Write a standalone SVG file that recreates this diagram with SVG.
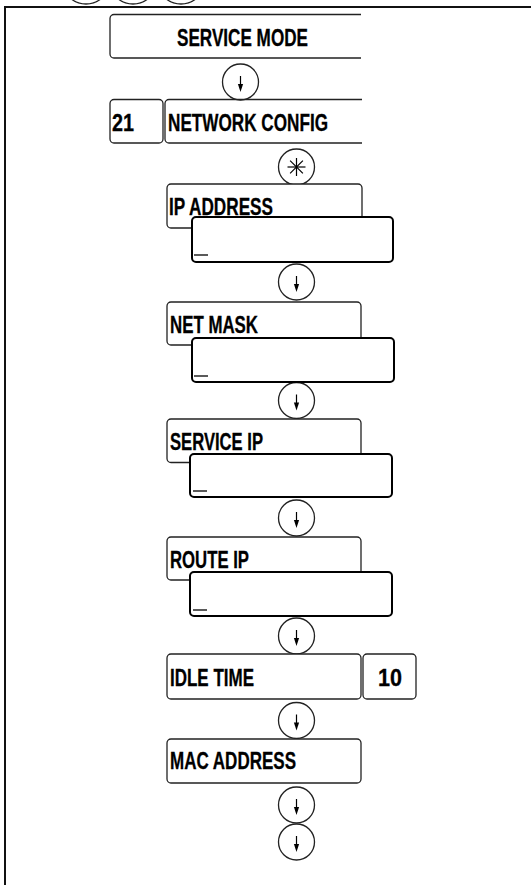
<svg xmlns="http://www.w3.org/2000/svg" width="531" height="885" viewBox="0 0 531 885">
<style>
.lbl{fill:#fff;stroke:#222;stroke-width:1.3}
.inp{fill:#fff;stroke:#000;stroke-width:2}
.t{font-family:"Liberation Sans",Arial,sans-serif;font-weight:bold;font-size:23px;fill:#000;stroke:#000;stroke-width:0.3}
.key{fill:#fff;stroke:#222;stroke-width:1.3}
.cur{stroke:#000;stroke-width:1.3}
.open{fill:none;stroke:#222;stroke-width:1.3}
</style>
<defs>
<g id="down">
<circle class="key" cx="0" cy="0" r="18"/>
<line x1="0" y1="-6" x2="0" y2="3" stroke="#000" stroke-width="1.2"/>
<polygon points="-2.6,2 2.6,2 0,10" fill="#000"/>
</g>
</defs>
<g id="frame">
<path d="M5,885 V7 H531" fill="none" stroke="#111" stroke-width="2"/>
<circle class="key" cx="86" cy="-20" r="24"/>
<circle class="key" cx="133" cy="-20" r="24"/>
<circle class="key" cx="181" cy="-20" r="24"/>
</g>
<g id="connectors">
<use href="#down" x="240.5" y="82"/>
<g id="star">
<circle class="key" cx="296.5" cy="167" r="18"/>
<g stroke="#000" stroke-width="1.2">
<line x1="296.5" y1="158" x2="296.5" y2="176"/>
<line x1="287.5" y1="167" x2="305.5" y2="167"/>
<line x1="290.1" y1="160.6" x2="302.9" y2="173.4"/>
<line x1="290.1" y1="173.4" x2="302.9" y2="160.6"/>
</g>
</g>
<use href="#down" x="296.5" y="282"/>
<use href="#down" x="296.5" y="400.5"/>
<use href="#down" x="296.5" y="518"/>
<use href="#down" x="296.5" y="636"/>
<use href="#down" x="296.5" y="720.5"/>
<use href="#down" x="296.5" y="805"/>
<use href="#down" x="296.5" y="842"/>
</g>
<g id="service-mode">
<path class="open" d="M361,14.5 H114 A4,4 0 0 0 110,18.5 V54 A4,4 0 0 0 114,58 H361"/>
<text class="t" x="177" y="46" textLength="131" lengthAdjust="spacingAndGlyphs">SERVICE MODE</text>
</g>
<g id="num-21">
<rect class="lbl" x="110" y="99.5" width="53" height="43.5" rx="4"/>
<text class="t" x="112" y="131" textLength="22" lengthAdjust="spacingAndGlyphs">21</text>
</g>
<g id="network-config">
<path class="open" d="M362,99.5 H169 A4,4 0 0 0 165,103.5 V139 A4,4 0 0 0 169,143 H362"/>
<text class="t" x="168" y="131" textLength="160" lengthAdjust="spacingAndGlyphs">NETWORK CONFIG</text>
</g>
<g id="ip-address">
<rect class="lbl" x="167" y="184" width="195" height="44" rx="4"/>
<text class="t" x="169" y="215" textLength="104" lengthAdjust="spacingAndGlyphs">IP ADDRESS</text>
<rect class="inp" x="192" y="217" width="201" height="45" rx="4"/>
<line class="cur" x1="194" y1="255" x2="208" y2="255"/>
</g>
<g id="net-mask">
<rect class="lbl" x="167" y="302" width="194" height="43" rx="4"/>
<text class="t" x="170" y="333" textLength="88" lengthAdjust="spacingAndGlyphs">NET MASK</text>
<rect class="inp" x="192" y="338" width="202" height="44" rx="4"/>
<line class="cur" x1="194" y1="376" x2="208" y2="376"/>
</g>
<g id="service-ip">
<rect class="lbl" x="167" y="419" width="194" height="43.5" rx="4"/>
<text class="t" x="170" y="450" textLength="93" lengthAdjust="spacingAndGlyphs">SERVICE IP</text>
<rect class="inp" x="190" y="454" width="202" height="43" rx="4"/>
<line class="cur" x1="193" y1="491" x2="207" y2="491"/>
</g>
<g id="route-ip">
<rect class="lbl" x="167" y="537" width="194" height="43" rx="4"/>
<text class="t" x="170" y="568" textLength="79" lengthAdjust="spacingAndGlyphs">ROUTE IP</text>
<rect class="inp" x="190" y="572" width="202" height="44" rx="4"/>
<line class="cur" x1="193" y1="610" x2="207" y2="610"/>
</g>
<g id="idle-time">
<rect class="lbl" x="167" y="654" width="194" height="45" rx="4"/>
<text class="t" x="170" y="686" textLength="84" lengthAdjust="spacingAndGlyphs">IDLE TIME</text>
</g>
<g id="idle-value">
<rect class="lbl" x="363" y="654" width="53" height="45" rx="4"/>
<text class="t" x="378" y="686" textLength="24" lengthAdjust="spacingAndGlyphs">10</text>
</g>
<g id="mac-address">
<rect class="lbl" x="167" y="739" width="194" height="44" rx="4"/>
<text class="t" x="170" y="769" textLength="126" lengthAdjust="spacingAndGlyphs">MAC ADDRESS</text>
</g>
</svg>
